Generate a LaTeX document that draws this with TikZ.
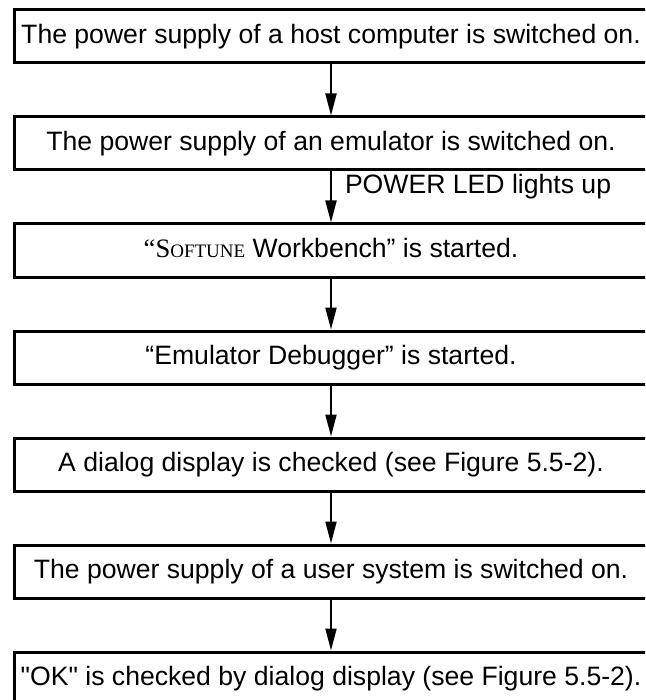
\documentclass[tikz,border=0pt]{standalone}
\usepackage{fontspec}
\setmainfont{Liberation Sans}[Ligatures=TeXOff]
\newfontfamily\serifface{Liberation Serif}[Ligatures=TeXOff]
\usetikzlibrary{arrows.meta}
\tikzset{
  stepbox/.style={draw, line width=3pt, minimum width=633pt, minimum height=53pt,
    inner sep=0pt, text height=19pt, text depth=5pt, align=center,
    font=\fontsize{26.6}{30}\selectfont},
  flowarrow/.style={line width=2pt, -{Triangle[length=22pt, width=11pt]}},
  lbl/.style={inner sep=0pt, anchor=west, font=\fontsize{26.6}{30}\selectfont}
}
\begin{document}
\begin{tikzpicture}[x=1pt,y=-1pt]
\useasboundingbox (0,0) rectangle (645,700);
\clip (0,0) rectangle (645,700);
\node[stepbox] (b1) at (331,36.5) {The power supply of a host computer is switched on.};
\node[stepbox] (b2) at (331,143.5) {The power supply of an emulator is switched on.};
\node[stepbox] (b3) at (331,250.5) {{\serifface “S\fontsize{19}{22}\selectfont OFTUNE} Workbench” is started.};
\node[stepbox] (b4) at (331,357.5) {“Emulator Debugger” is started.};
\node[stepbox] (b5) at (331,464.5) {A dialog display is checked (see Figure 5.5-2).};
\node[stepbox] (b6) at (331,571.5) {The power supply of a user system is switched on.};
\node[stepbox] (b7) at (331,678.5) {"OK" is checked by dialog display (see Figure 5.5-2).};
\draw[flowarrow] (b1.south) -- (b2.north);
\draw[flowarrow] (b2.south) -- node[lbl, pos=0.3, xshift=13pt] (l1) {POWER LED lights up} (b3.north);
\draw[flowarrow] (b3.south) -- (b4.north);
\draw[flowarrow] (b4.south) -- (b5.north);
\draw[flowarrow] (b5.south) -- (b6.north);
\draw[flowarrow] (b6.south) -- (b7.north);
\end{tikzpicture}
\end{document}
